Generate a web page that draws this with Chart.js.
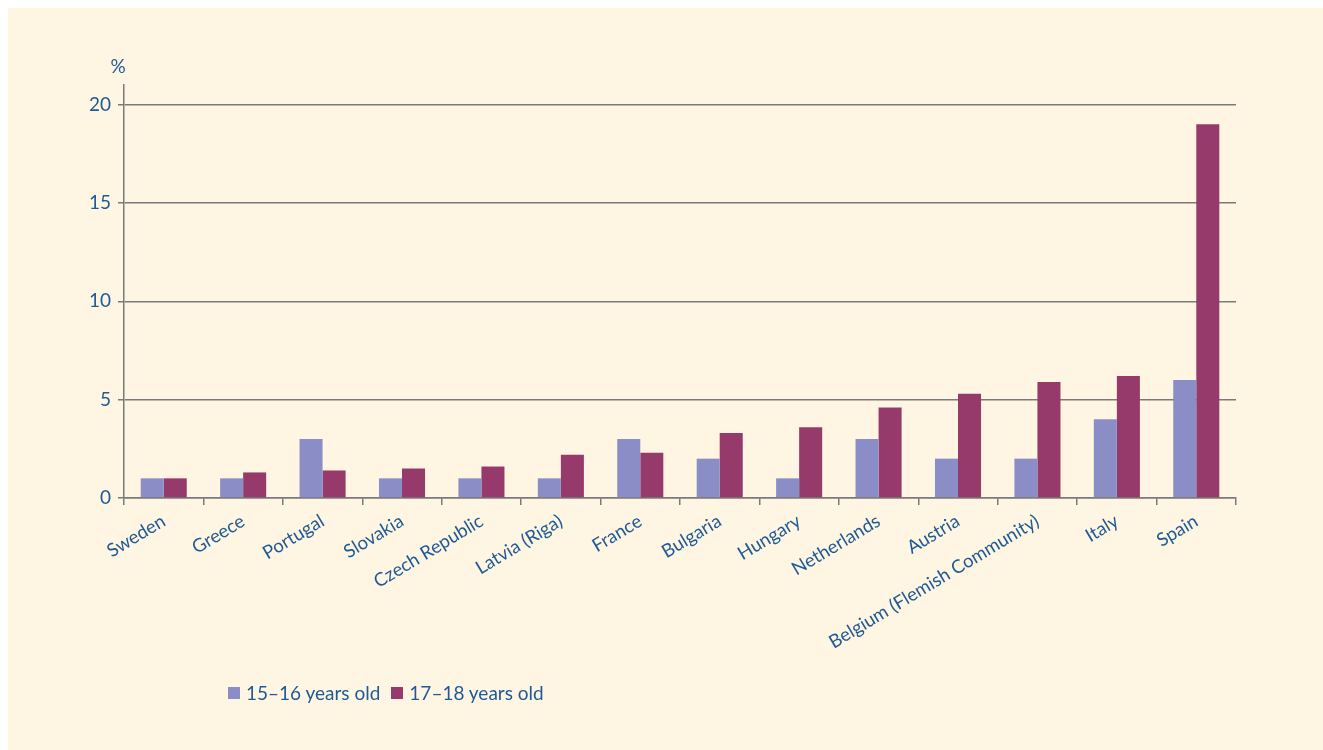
<!DOCTYPE html>
<html>
<head>
<meta charset="utf-8">
<script src="https://cdn.jsdelivr.net/npm/chart.js@4.4.1/dist/chart.umd.min.js"></script>
<style>
  html, body { margin: 0; padding: 0; background: #fff; }
  body { width: 1323px; height: 750px; position: relative; overflow: hidden; }
  #panel { position: absolute; left: 8px; top: 8px; width: 1315px; height: 742px; background: #fef6e2; }
  #chart { position: absolute; left: 0; top: 0; }
  .legend { position: absolute; top: 673px; left: 220px; font-family: Lato, sans-serif; font-size: 19px; color: #1f5a96; display: flex; align-items: center; }
  .legend span.box { display: inline-block; width: 12px; height: 12px; margin-right: 6px; }
  .legend .item { display: flex; align-items: center; margin-right: 11px; }
</style>
</head>
<body>
<div id="panel">
  <canvas id="chart" width="1315" height="742"></canvas>
  <div class="legend" id="legend"></div>
</div>
<script>
const countries = ['Sweden', 'Greece', 'Portugal', 'Slovakia', 'Czech Republic', 'Latvia (Riga)', 'France',
  'Bulgaria', 'Hungary', 'Netherlands', 'Austria', 'Belgium (Flemish Community)', 'Italy', 'Spain'];
const age1516 = [1, 1, 3, 1, 1, 1, 3, 2, 1, 3, 2, 2, 4, 6];
const age1718 = [1, 1.3, 1.4, 1.5, 1.6, 2.2, 2.3, 3.3, 3.6, 4.6, 5.3, 5.9, 6.2, 19];
const seriesNames = ['15\u201316 years old', '17\u201318 years old'];
const seriesColors = ['#8b8ec6', '#963a6b'];
const yTicks = [0, 5, 10, 15, 20];

const textColor = '#1f5a96';
const gridColor = '#7a7a7a';
const font = 'Lato, sans-serif';

// "%" unit label above the y axis
const unitLabel = {
    id: 'unitLabel',
    afterDraw(chart) {
        const ctx = chart.ctx;
        const area = chart.chartArea;
        ctx.save();
        ctx.fillStyle = textColor;
        ctx.font = '19px ' + font;
        ctx.textAlign = 'center';
        ctx.textBaseline = 'middle';
        ctx.fillText('%', area.left - 6, area.top - 18);
        ctx.restore();
    }
};

const ctx = document.getElementById('chart').getContext('2d');
new Chart(ctx, {
    type: 'bar',
    data: {
        labels: countries,
        datasets: [
            { label: seriesNames[0], data: age1516, backgroundColor: seriesColors[0] },
            { label: seriesNames[1], data: age1718, backgroundColor: seriesColors[1] }
        ]
    },
    options: {
        responsive: false,
        animation: false,
        layout: { padding: { top: 77, right: 87, left: 0, bottom: 0 } },
        datasets: { bar: { categoryPercentage: 0.58, barPercentage: 1 } },
        plugins: {
            legend: { display: false },
            tooltip: { enabled: false }
        },
        scales: {
            x: {
                afterFit: (s) => { s.height = 252; },
                grid: { offset: true, drawOnChartArea: false, color: gridColor, lineWidth: 1.5, tickLength: 7 },
                border: { color: gridColor, width: 1.5 },
                ticks: { color: textColor, font: { family: font, size: 18.5 }, minRotation: 31, maxRotation: 31, autoSkip: false, padding: 5 }
            },
            y: {
                min: 0,
                max: 21,
                afterFit: (s) => { s.width = 116; },
                afterBuildTicks: (s) => { s.ticks = yTicks.map(v => ({ value: v })); },
                grid: { color: gridColor, lineWidth: 1.5, tickLength: 6 },
                border: { color: gridColor, width: 1.5 },
                ticks: { color: textColor, font: { family: font, size: 19 }, padding: 7 }
            }
        }
    },
    plugins: [unitLabel]
});

document.getElementById('legend').innerHTML = seriesNames.map((name, i) =>
    `<div class="item"><span class="box" style="background:${seriesColors[i]}"></span>${name}</div>`
).join('');
</script>
</body>
</html>
